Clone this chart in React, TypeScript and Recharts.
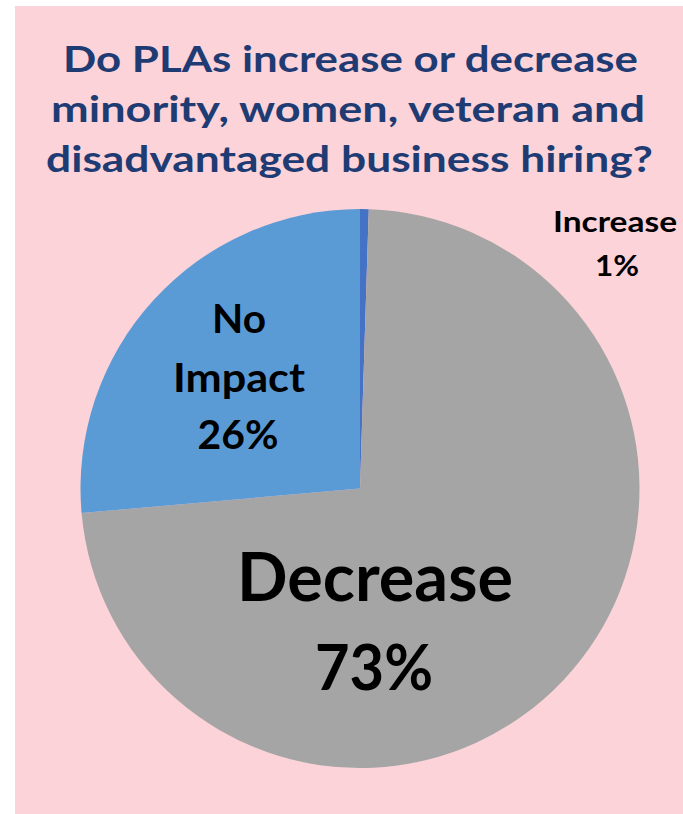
import { PieChart, Pie, Cell } from 'recharts';

// Survey answers, clockwise from 12 o'clock
const categories = ['Increase', 'Decrease', 'No Impact'];
const shares = [0.5, 73.1, 26.4];
const percentLabels = ['1%', '73%', '26%'];
const sliceColors = ['#4472C4', '#A5A5A5', '#5B9BD5'];

const titleLines = [
  'Do PLAs increase or decrease',
  'minority, women, veteran and',
  'disadvantaged business hiring?',
];

const data = categories.map((name, i) => ({ name, value: shares[i] }));

const W = 683;
const H = 814;
const FONT = 'Lato, "Open Sans", sans-serif';

// text placement: [x center, baseline, font size, width]
const titleLayout = [
  [350.5, 72, 35.5, 575],
  [348, 122, 35.5, 594],
  [349.5, 172, 35.5, 607],
];

const SliceText = ({ x, y, size, width, children }: { x: number; y: number; size: number; width: number; children: string }) => (
  <text
    x={x}
    y={y}
    textAnchor="middle"
    fontFamily={FONT}
    fontWeight={700}
    fontSize={size}
    fill="#000"
    textLength={width}
    lengthAdjust="spacingAndGlyphs"
  >
    {children}
  </text>
);

const App = () => {
  return (
    <div style={{ position: 'absolute', left: 0, top: 0, width: W, height: H, background: '#fff' }}>
      <div style={{ position: 'absolute', left: 15, top: 6, width: W - 15, height: H - 6, background: '#FBD3D8' }} />
      <div style={{ position: 'absolute', left: 0, top: 0 }}>
        <PieChart width={W} height={H} margin={{ top: 0, right: 0, bottom: 0, left: 0 }}>
          <Pie
            data={data}
            dataKey="value"
            nameKey="name"
            cx={360}
            cy={488.5}
            outerRadius={279.5}
            startAngle={90}
            endAngle={-270}
            stroke="none"
            isAnimationActive={false}
          >
            {data.map((d, i) => (
              <Cell key={d.name} fill={sliceColors[i]} />
            ))}
          </Pie>
        </PieChart>
      </div>
      <svg width={W} height={H} style={{ position: 'absolute', left: 0, top: 0, pointerEvents: 'none' }}>
        {titleLines.map((line, i) => (
          <text
            key={line}
            x={titleLayout[i][0]}
            y={titleLayout[i][1]}
            textAnchor="middle"
            fontFamily={FONT}
            fontWeight={700}
            fontSize={titleLayout[i][2]}
            fill="#1F3B73"
            textLength={titleLayout[i][3]}
            lengthAdjust="spacingAndGlyphs"
          >
            {line}
          </text>
        ))}

        {/* Increase */}
        <SliceText x={615} y={232} size={28} width={124}>{categories[0]}</SliceText>
        <SliceText x={617} y={276} size={28} width={44}>{percentLabels[0]}</SliceText>

        {/* No Impact */}
        <SliceText x={239} y={333} size={40} width={54}>No</SliceText>
        <SliceText x={239} y={392} size={40} width={132}>Impact</SliceText>
        <SliceText x={238} y={449} size={40} width={81}>{percentLabels[2]}</SliceText>

        {/* Decrease */}
        <SliceText x={375} y={601} size={67} width={276}>{categories[1]}</SliceText>
        <SliceText x={374} y={690} size={63} width={118}>{percentLabels[1]}</SliceText>
      </svg>
    </div>
  );
};

export default App;
